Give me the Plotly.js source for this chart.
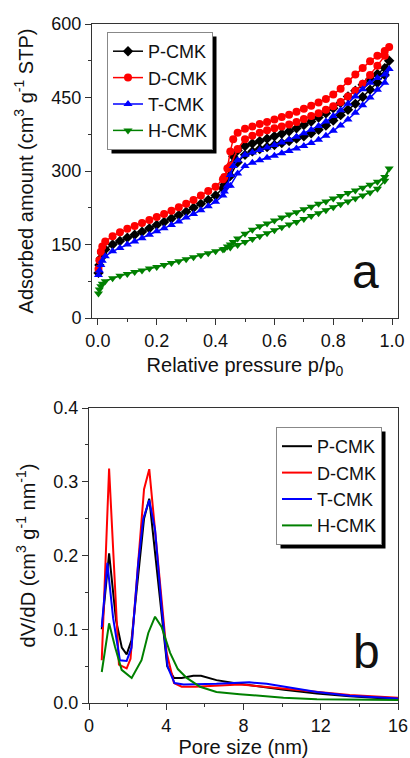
<!DOCTYPE html>
<html>
<head>
<meta charset="utf-8">
<script src="https://cdn.plot.ly/plotly-3.0.1.min.js"></script>
<style>html,body{margin:0;padding:0;background:#fff;}#chart{width:410px;height:758px;}</style>
</head>
<body>
<div id="chart"></div>
<script>
// ---------- (a) N2 isotherms ----------
const pressureAds = [0.002,0.005,0.01,0.015,0.025,0.05,0.075,0.1,0.125,0.15,0.175,0.2,0.225,0.25,0.275,0.3,0.325,0.35,0.375,0.4,0.425,0.45,0.475,0.5,0.525,0.55,0.575,0.6,0.625,0.65,0.675,0.7,0.725,0.75,0.775,0.8,0.825,0.85,0.875,0.9,0.925,0.95,0.975,0.99];
const pressureDes = [0.975,0.95,0.925,0.9,0.875,0.85,0.825,0.8,0.775,0.75,0.725,0.7,0.675,0.65,0.625,0.6,0.575,0.55,0.525,0.5,0.475,0.46,0.45,0.44,0.43];

const pcmkAds = [92,108,122,132,140,150,157,164,170,176,183,190,196,203,210,217,225,233,241,250,265,290,318,333,340,345,349,353,357,361,366,371,377,384,393,403,414,425,437,451,466,480,496,525];
const pcmkDes = [510,498,487,476,464,452,439,428,418,409,401,394,387,381,376,371,366,361,356,351,342,330,310,285,272];

const dcmkAds = [100,118,135,146,156,167,175,182,188,194,200,206,212,219,226,233,241,250,259,268,283,310,345,365,372,378,383,387,391,395,400,406,412,418,425,432,441,452,464,478,496,515,535,553];
const dcmkDes = [545,535,524,510,497,483,468,456,447,440,433,427,421,415,410,405,400,396,391,386,378,365,340,305,288];

const tcmkAds = [88,97,108,117,126,136,143,150,156,163,170,177,183,190,197,205,212,220,228,237,250,270,295,310,317,322,327,331,336,341,346,351,357,364,372,382,393,405,419,434,450,466,480,508];
const tcmkDes = [497,490,480,467,452,437,424,412,401,392,384,377,370,364,358,353,348,343,338,333,322,310,292,270,258];

const hcmkAds = [50,58,65,70,75,81,86,90,94,97,101,104,108,112,116,120,124,128,132,136,140,144,149,155,161,167,173,179,185,191,196,202,208,214,220,226,232,238,244,250,256,264,280,305];
const hcmkDes = [288,278,272,266,260,255,249,244,238,233,227,222,216,211,205,199,193,187,180,172,162,155,150,146,141];

// ---------- (b) pore size distributions ----------
const poreP = [0.66,1.04,1.4,1.7,1.95,2.2,2.85,3.12,4.05,4.4,4.8,5.4,5.8,6.6,7.5,8.3,9.2,10.1,11.8,13.5,16];
const dvP   = [0.100,0.203,0.112,0.075,0.066,0.085,0.25,0.277,0.05,0.034,0.034,0.037,0.037,0.031,0.027,0.024,0.021,0.018,0.013,0.009,0.005];

const poreD = [0.66,1.04,1.55,1.95,2.15,2.85,3.12,4.02,4.4,4.8,5.5,6.6,7.8,8.3,10.0,11.8,13.5,16];
const dvD   = [0.058,0.318,0.052,0.047,0.06,0.29,0.317,0.068,0.027,0.022,0.022,0.023,0.025,0.024,0.020,0.015,0.011,0.007];

const poreT = [0.66,0.95,1.25,1.6,1.95,2.2,2.55,2.81,3.12,3.42,3.76,4.07,4.43,4.9,6.6,7.5,8.3,9.2,10.1,11.8,13.5,16];
const dvT   = [0.103,0.19,0.115,0.058,0.057,0.075,0.19,0.25,0.275,0.235,0.13,0.049,0.027,0.025,0.026,0.027,0.028,0.026,0.022,0.015,0.010,0.006];

const poreH = [0.66,1.04,1.35,1.69,2.21,2.72,3.07,3.42,3.76,4.2,4.6,5.06,5.75,6.6,7.8,9.2,10.07,11.8,16];
const dvH   = [0.042,0.108,0.076,0.045,0.034,0.058,0.095,0.117,0.103,0.068,0.046,0.034,0.022,0.015,0.012,0.009,0.007,0.005,0.004];

const seriesNames = ['P-CMK','D-CMK','T-CMK','H-CMK'];
const seriesColors = ['#000000','#ff0000','#0000ff','#008000'];
const seriesSymbols = ['diamond','circle','triangle-up','triangle-down'];

const W = 410, H = 758;
const FONT = 'Liberation Sans, Arial, Helvetica, sans-serif';

const isoAds = [pcmkAds, dcmkAds, tcmkAds, hcmkAds];
const isoDes = [pcmkDes, dcmkDes, tcmkDes, hcmkDes];
const poreX = [poreP, poreD, poreT, poreH];
const poreY = [dvP, dvD, dvT, dvH];

const data = [];
for (let i = 0; i < 4; i++) {
  data.push({
    x: pressureAds.concat(pressureDes),
    y: isoAds[i].concat(isoDes[i]),
    type: 'scatter', mode: 'lines+markers', name: seriesNames[i],
    xaxis: 'x', yaxis: 'y', legend: 'legend',
    line: {color: seriesColors[i], width: 1.5},
    marker: {symbol: seriesSymbols[i], size: 8, color: seriesColors[i], line: {width: 0}}
  });
}
for (let i = 0; i < 4; i++) {
  data.push({
    x: poreX[i], y: poreY[i],
    type: 'scatter', mode: 'lines', name: seriesNames[i],
    xaxis: 'x2', yaxis: 'y2', legend: 'legend2',
    line: {color: seriesColors[i], width: 2}
  });
}

function axisBase() {
  return {
    showline: true, mirror: true, linecolor: '#333', linewidth: 1,
    ticks: 'outside', ticklen: 6, tickwidth: 1, tickcolor: '#333',
    showgrid: false, zeroline: false, automargin: false,
    tickfont: {size: 18, color: '#111', family: FONT},
  };
}

const layout = {
  width: W, height: H, autosize: false,
  margin: {l: 0, r: 0, t: 0, b: 0, pad: 0},
  paper_bgcolor: '#fff', plot_bgcolor: '#fff',
  font: {family: FONT, color: '#111', size: 18},
  showlegend: true,
  xaxis: Object.assign(axisBase(), {
    domain: [92 / W, 398 / W], range: [-0.02, 1.02], anchor: 'y',
    tick0: 0, dtick: 0.2, tickformat: '.1f',
    minor: {dtick: 0.1, ticklen: 3, ticks: 'outside', tickcolor: '#333', showgrid: false},
    title: {text: 'Relative pressure p/p<sub>0</sub>', font: {size: 20, family: FONT, color: '#111'}, standoff: 8}
  }),
  yaxis: Object.assign(axisBase(), {
    domain: [1 - 318 / H, 1 - 24 / H], range: [0, 600], anchor: 'x',
    tick0: 0, dtick: 150,
    minor: {dtick: 75, ticklen: 3, ticks: 'outside', tickcolor: '#333', showgrid: false},
    title: {text: 'Adsorbed amount (cm<sup>3</sup> g<sup>-1</sup> STP)', font: {size: 20, family: FONT, color: '#111'}, standoff: 12}
  }),
  xaxis2: Object.assign(axisBase(), {
    domain: [89 / W, 398 / W], range: [0, 16], anchor: 'y2',
    tick0: 0, dtick: 4,
    minor: {dtick: 2, ticklen: 3, ticks: 'outside', tickcolor: '#333', showgrid: false},
    title: {text: 'Pore size (nm)', font: {size: 20, family: FONT, color: '#111'}, standoff: 8}
  }),
  yaxis2: Object.assign(axisBase(), {
    domain: [1 - 703 / H, 1 - 408 / H], range: [0, 0.4], anchor: 'x2',
    tick0: 0, dtick: 0.1, tickformat: '.1f',
    minor: {dtick: 0.05, ticklen: 3, ticks: 'outside', tickcolor: '#333', showgrid: false},
    title: {text: 'dV/dD (cm<sup>3</sup> g<sup>-1</sup> nm<sup>-1</sup>)', font: {size: 20, family: FONT, color: '#111'}, standoff: 12}
  }),
  legend: {
    x: 107 / W, y: 1 - 32 / H, xanchor: 'left', yanchor: 'top',
    xref: 'paper', yref: 'paper',
    bgcolor: '#fff', bordercolor: '#888', borderwidth: 1,
    font: {size: 18, family: FONT, color: '#111'},
    itemsizing: 'trace', tracegroupgap: 0
  },
  legend2: {
    x: 276 / W, y: 1 - 427 / H, xanchor: 'left', yanchor: 'top',
    xref: 'paper', yref: 'paper',
    bgcolor: '#fff', bordercolor: '#888', borderwidth: 1,
    font: {size: 18, family: FONT, color: '#111'},
    tracegroupgap: 0
  },
  annotations: [
    {text: 'a', xref: 'paper', yref: 'paper', x: 365 / W, y: 1 - 271 / H, xanchor: 'center', yanchor: 'middle', showarrow: false, font: {size: 48, family: FONT, color: '#111'}},
    {text: 'b', xref: 'paper', yref: 'paper', x: 366 / W, y: 1 - 651 / H, xanchor: 'center', yanchor: 'middle', showarrow: false, font: {size: 48, family: FONT, color: '#111'}}
  ]
};

Plotly.newPlot('chart', data, layout, {staticPlot: true, displayModeBar: false}).then(function (gd) {
  const shapes = [];
  const g = gd.getBoundingClientRect();
  ['legend', 'legend2'].forEach(function (cls) {
    const el = gd.querySelector('g.' + cls + ' rect.bg');
    if (!el) return;
    const r = el.getBoundingClientRect();
    const off = 4;
    shapes.push({
      type: 'rect', xref: 'paper', yref: 'paper', layer: 'above',
      x0: (r.left - g.left + off) / W, x1: (r.right - g.left + off) / W,
      y0: 1 - (r.bottom - g.top + off) / H, y1: 1 - (r.top - g.top + off) / H,
      fillcolor: '#000', line: {width: 0}
    });
  });
  return Plotly.relayout(gd, {shapes: shapes});
});
</script>
</body>
</html>
